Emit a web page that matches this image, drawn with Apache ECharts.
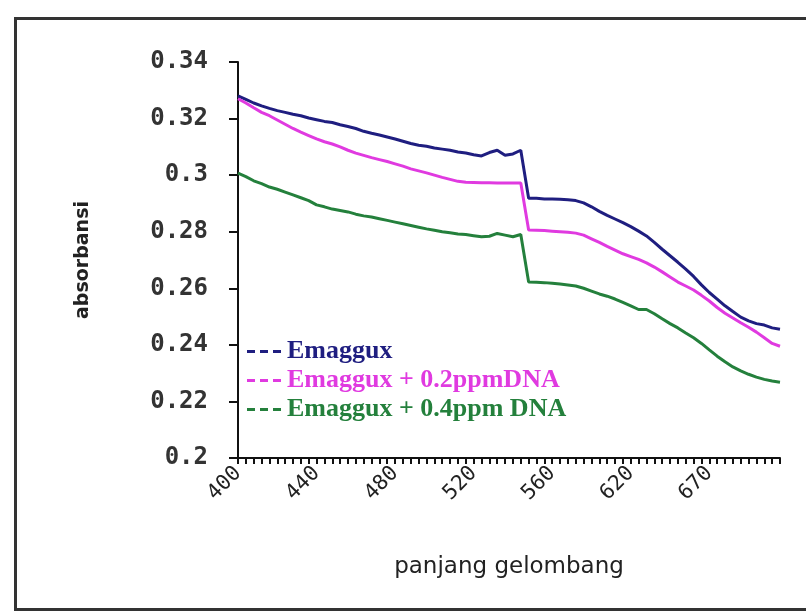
<!DOCTYPE html>
<html><head><meta charset="utf-8">
<script src="https://cdn.jsdelivr.net/npm/echarts@6/dist/echarts.min.js"></script>
<style>html,body{margin:0;padding:0;background:#fff}#c{width:806px;height:612px}</style>
</head><body><div id="c"></div>
<script>
// wavelength categories (labels shown every 10th)
const categories = [
 400,404,408,412,416,420,424,428,432,436,
 440,444,448,452,456,460,464,468,472,476,
 480,484,488,492,496,500,504,508,512,516,
 520,524,528,532,536,540,544,548,552,556,
 560,566,572,578,584,590,596,602,608,614,
 620,625,630,635,640,645,650,655,660,665,
 670,675,680,685,690,695,700,705,710,715
];
const seriesNames = ['Emaggux', 'Emaggux + 0.2ppmDNA', 'Emaggux + 0.4ppm DNA'];
const emaggux = [
 0.328,0.3268,0.3255,0.3245,0.3236,0.3228,0.3222,0.3215,0.321,0.3202,
 0.3196,0.319,0.3186,0.3178,0.3172,0.3165,0.3155,0.3148,0.3142,0.3135,
 0.3128,0.312,0.3112,0.3106,0.3102,0.3096,0.3092,0.3088,0.3082,0.3078,
 0.3072,0.3068,0.308,0.3088,0.307,0.3075,0.3088,0.2918,0.2918,0.2916,
 0.2916,0.2915,0.2913,0.291,0.2902,0.2888,0.2872,0.2858,0.2845,0.2832,
 0.2818,0.2802,0.2785,0.2762,0.2738,0.2715,0.2692,0.2668,0.2642,0.2612,
 0.2585,0.2562,0.2538,0.2518,0.2498,0.2485,0.2475,0.247,0.246,0.2455
];
const emaggux02 = [
 0.327,0.3255,0.3238,0.3222,0.321,0.3195,0.318,0.3165,0.3152,0.314,
 0.3128,0.3118,0.311,0.31,0.3088,0.3078,0.307,0.3062,0.3055,0.3048,
 0.304,0.3032,0.3022,0.3015,0.3008,0.3,0.2992,0.2985,0.2978,0.2975,
 0.2974,0.2973,0.2973,0.2972,0.2972,0.2972,0.2972,0.2806,0.2805,0.2804,
 0.2802,0.28,0.2798,0.2795,0.2788,0.2775,0.2762,0.2748,0.2735,0.2722,
 0.2712,0.2702,0.269,0.2675,0.2658,0.264,0.2622,0.2608,0.2594,0.2575,
 0.2555,0.2532,0.2512,0.2495,0.2478,0.2462,0.2445,0.2425,0.2405,0.2395
];
const emaggux04 = [
 0.3007,0.2995,0.298,0.297,0.2958,0.295,0.294,0.293,0.292,0.291,
 0.2895,0.2888,0.288,0.2875,0.287,0.2862,0.2856,0.2852,0.2846,0.284,
 0.2834,0.2828,0.2822,0.2816,0.281,0.2805,0.28,0.2796,0.2792,0.279,
 0.2786,0.2782,0.2784,0.2794,0.2788,0.2782,0.279,0.2622,0.2621,0.262,
 0.2618,0.2615,0.2612,0.2608,0.26,0.259,0.258,0.2572,0.2562,0.255,
 0.2538,0.2525,0.2525,0.251,0.2492,0.2475,0.246,0.2442,0.2425,0.2405,
 0.2382,0.236,0.234,0.2322,0.2308,0.2296,0.2286,0.2278,0.2272,0.2268
];
const colors = ['#1f1e80', '#e03ae0', '#24803c'];
const yTicks = {min: 0.2, max: 0.34, interval: 0.02};

const chart = echarts.init(document.getElementById('c'), null, {renderer: 'canvas'});
const allData = [emaggux, emaggux02, emaggux04];
const dashIcon = 'path://M0,0 L8,0 L8,3 L0,3 Z M13,0 L21,0 L21,3 L13,3 Z M26,0 L34,0 L34,3 L26,3 Z';
chart.setOption({
  animation: false,
  backgroundColor: '#ffffff',
  graphic: [{
    type: 'rect', left: 13, top: 16,
    shape: {width: 800, height: 591},
    style: {fill: 'none', stroke: '#333', lineWidth: 3}
  }],
  grid: {left: 238, top: 62, right: 26, bottom: 154},
  legend: {
    orient: 'vertical', left: 242, top: 332, itemGap: 0,
    itemWidth: 36, itemHeight: 3, icon: dashIcon,
    data: seriesNames.map((n, i) => ({name: n, textStyle: {color: colors[i]}})),
    textStyle: {fontFamily: 'Liberation Serif', fontSize: 26, fontWeight: 'bold', lineHeight: 29}
  },
  xAxis: {
    type: 'category', data: categories, boundaryGap: false,
    name: 'panjang gelombang', nameLocation: 'middle', nameGap: 98,
    nameTextStyle: {fontFamily: 'DejaVu Sans', fontSize: 23, color: '#222'},
    axisLine: {lineStyle: {color: '#111', width: 2}},
    axisTick: {interval: 0, length: 6, lineStyle: {color: '#111', width: 2}},
    axisLabel: {interval: 9, rotate: 45, margin: 12, fontFamily: 'DejaVu Sans Mono', fontSize: 21, color: '#222'}
  },
  yAxis: {
    type: 'value', min: yTicks.min, max: yTicks.max, interval: yTicks.interval,
    name: 'absorbansi', nameLocation: 'middle', nameGap: 145, nameRotate: 90,
    nameTextStyle: {fontFamily: 'DejaVu Sans', fontSize: 19, fontWeight: 'bold', color: '#222'},
    splitLine: {show: false},
    axisLine: {show: true, lineStyle: {color: '#111', width: 2}},
    axisTick: {show: true, length: 9, lineStyle: {color: '#111', width: 2}},
    axisLabel: {margin: 30, fontFamily: 'DejaVu Sans Mono', fontSize: 24, fontWeight: 'bold', color: '#333'}
  },
  series: seriesNames.map((n, i) => ({
    name: n, type: 'line', data: allData[i], symbol: 'none',
    lineStyle: {color: colors[i], width: 3}, itemStyle: {color: colors[i]}
  }))
});
</script></body></html>
